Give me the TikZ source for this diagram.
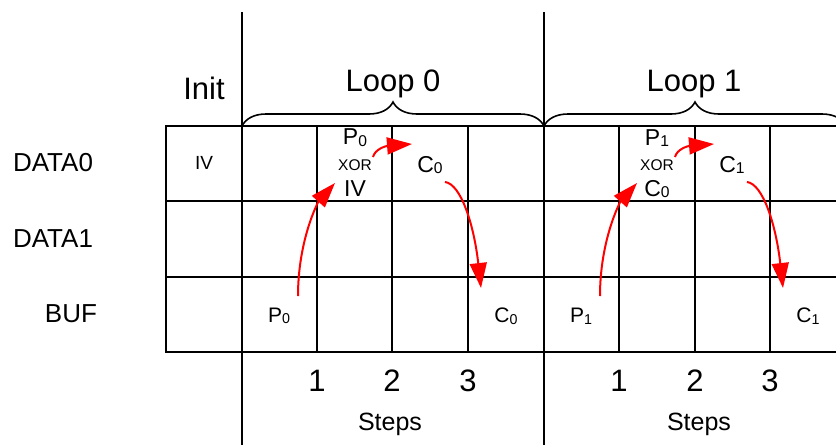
\documentclass[tikz,border=0pt]{standalone}
\usepackage{fontspec}
\setmainfont{Liberation Sans}
\usetikzlibrary{arrows.meta,decorations.pathreplacing}
\newcommand\sbn[1]{\raisebox{-0.15ex}{\scalebox{0.68}{#1}}}
\begin{document}
\begin{tikzpicture}[x=1pt,y=-1pt,
  gridline/.style={line width=2pt,line cap=rect},
  axisline/.style={line width=1.6pt},
  bracestyle/.style={line width=1.6pt,decorate,decoration={brace,amplitude=24pt}},
  flow/.style={red,line width=2pt,-{Triangle[length=25pt,width=17pt]}},
  huge/.style={font=\fontsize{31}{31}\selectfont},
  rowlab/.style={font=\fontsize{26}{26}\selectfont},
  cell/.style={font=\fontsize{23}{23}\selectfont},
  small/.style={font=\fontsize{21}{21}\selectfont},
  ivlab/.style={font=\fontsize{19}{19}\selectfont},
  xorlab/.style={font=\fontsize{15.5}{15.5}\selectfont},
  steplab/.style={font=\fontsize{25}{25}\selectfont},
  inner sep=0pt]
\useasboundingbox (0,0) rectangle (836,445);
\begin{scope}
\clip (0,0) rectangle (836,445);
% long vertical separators
\draw[axisline] (242,12) -- (242,445);
\draw[axisline] (544,12) -- (544,445);
% grid
\foreach \y in {126,201,277,352} \draw[gridline] (166,\y) -- (840,\y);
\foreach \x in {166,242,317,392,468,544,619,695,770} \draw[gridline] (\x,126) -- (\x,352);
% braces
\draw[bracestyle] (242,126) -- (544,126);
\draw[bracestyle] (544,126) -- (846,126);
\end{scope}
% headers
\node[huge] (init) at (204,88) {Init};
\node[huge] (loop0) at (393,84) {Loop 0};
\node[huge] (loop1) at (694,84) {Loop 1};
% row labels
\node[rowlab] (d0) at (53,163) {DATA0};
\node[rowlab] (d1) at (53,239) {DATA1};
\node[rowlab] (buf) at (71,314) {BUF};
% init
\node[ivlab] (iv) at (204,163) {IV};
% loop 0
\node[cell] (p0a) at (355,138) {P\sbn{0}};
\node[xorlab] (x0) at (355,165) {XOR};
\node[cell] (iv0) at (355,189) {IV};
\node[cell] (c0a) at (430,165) {C\sbn{0}};
\node[small] (p0b) at (279,316) {P\sbn{0}};
\node[small] (c0b) at (506,316) {C\sbn{0}};
% loop 1
\node[cell] (p1a) at (657,138) {P\sbn{1}};
\node[xorlab] (x1) at (657,165) {XOR};
\node[cell] (c0c) at (657,189) {C\sbn{0}};
\node[cell] (c1a) at (732,165) {C\sbn{1}};
\node[small] (p1b) at (581,316) {P\sbn{1}};
\node[small] (c1b) at (808,316) {C\sbn{1}};
% steps
\foreach \x/\n [count=\i] in {317/1,392/2,468/3,619/1,695/2,770/3}
  \node[huge] (s\i) at (\x,381) {\n};
\node[steplab] (st0) at (390,424) {Steps};
\node[steplab] (st1) at (699,424) {Steps};
% arrow endpoints
\coordinate (a1s) at (298,296); \coordinate (a1e) at (335,183);
\coordinate (a2s) at (373,157); \coordinate (a2e) at (412,144);
\coordinate (a3s) at (445,182); \coordinate (a3e) at (481,288);
\coordinate (b1s) at (600,296); \coordinate (b1e) at (637,183);
\coordinate (b2s) at (675,157); \coordinate (b2e) at (714,144);
\coordinate (b3s) at (747,182); \coordinate (b3e) at (783,288);
% arrows
\draw[flow] (a1s) .. controls (298,240) and (318,202) .. (a1e);
\draw[flow] (a2s) .. controls (375,149) and (386,146) .. (a2e);
\draw[flow] (a3s) .. controls (461,184) and (474,225) .. (a3e);
\draw[flow] (b1s) .. controls (600,240) and (620,202) .. (b1e);
\draw[flow] (b2s) .. controls (677,149) and (688,146) .. (b2e);
\draw[flow] (b3s) .. controls (763,184) and (776,225) .. (b3e);
\end{tikzpicture}
\end{document}
